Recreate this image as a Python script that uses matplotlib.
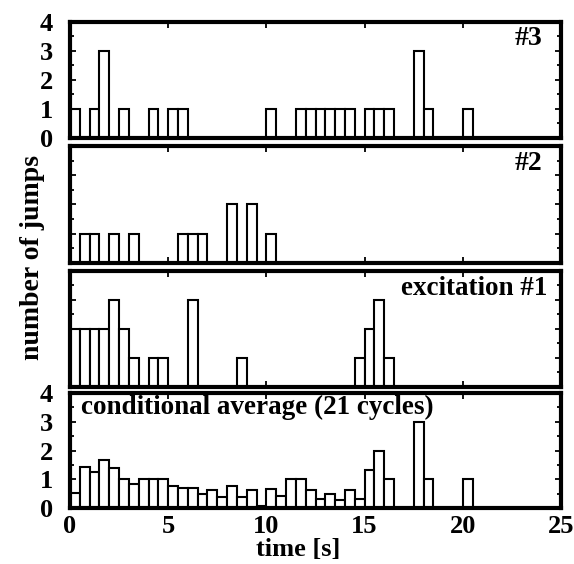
import matplotlib
matplotlib.use("Agg")
import matplotlib.pyplot as plt
from matplotlib.ticker import MultipleLocator, FixedLocator

plt.rcParams['font.family'] = ['Liberation Serif', 'DejaVu Serif']
plt.rcParams['font.weight'] = 'bold'

BIN = 0.5

# panel "#3": bin start times [s] and counts
t3 = [0.0, 1.0, 1.5, 2.5, 4.0, 5.0, 5.5, 10.0, 11.5, 12.0, 12.5, 13.0, 13.5, 14.0,
      15.0, 15.5, 16.0, 17.5, 18.0, 20.0]
n3 = [1, 1, 3, 1, 1, 1, 1, 1, 1, 1, 1, 1, 1, 1, 1, 1, 1, 3, 1, 1]

# panel "#2"
t2 = [0.5, 1.0, 2.0, 3.0, 5.5, 6.0, 6.5, 8.0, 9.0, 10.0]
n2 = [1, 1, 1, 1, 1, 1, 1, 2, 2, 1]

# panel "excitation #1"
t1 = [0.0, 0.5, 1.0, 1.5, 2.0, 2.5, 3.0, 4.0, 4.5, 6.0, 8.5, 14.5, 15.0, 15.5, 16.0]
n1 = [2, 2, 2, 2, 3, 2, 1, 1, 1, 3, 1, 1, 2, 3, 1]

# panel "conditional average (21 cycles)"
tc = [0.0, 0.5, 1.0, 1.5, 2.0, 2.5, 3.0, 3.5, 4.0, 4.5, 5.0, 5.5, 6.0, 6.5, 7.0, 7.5,
      8.0, 8.5, 9.0, 9.5, 10.0, 10.5, 11.0, 11.5, 12.0, 12.5, 13.0, 13.5, 14.0, 14.5,
      15.0, 15.5, 16.0, 17.5, 18.0, 20.0]
nc = [0.52, 1.42, 1.25, 1.68, 1.40, 1.0, 0.82, 1.0, 1.0, 1.0, 0.76, 0.71, 0.71, 0.49,
      0.63, 0.37, 0.76, 0.37, 0.61, 0.07, 0.67, 0.42, 1.0, 1.0, 0.64, 0.33, 0.47, 0.27,
      0.62, 0.30, 1.33, 2.0, 1.0, 3.0, 1.0, 1.0]

panel_labels = ["#3", "#2", "excitation #1", "conditional average (21 cycles)"]
x_ticks = [0, 5, 10, 15, 20, 25]
y_ticks = [0, 1, 2, 3, 4]

W, H = 574, 564
fig = plt.figure(figsize=(W / 100, H / 100), dpi=100)

# panel boxes in pixels: (top, bottom)
boxes = [(21.7, 137.7), (146.0, 262.7), (270.7, 386.7), (393.0, 508.0)]
left_px, right_px = 70.0, 561.0

data = [(t3, n3), (t2, n2), (t1, n1), (tc, nc)]
axes = []
for i, ((top, bot), (tt, nn)) in enumerate(zip(boxes, data)):
    ax = fig.add_axes([left_px / W, 1 - bot / H, (right_px - left_px) / W, (bot - top) / H])
    axes.append(ax)
    ax.bar(tt, nn, width=BIN, align='edge', facecolor='white', edgecolor='black',
           linewidth=1.5, zorder=2)
    ax.set_xlim(0, 25)
    ax.set_ylim(0, 4)
    for s in ax.spines.values():
        s.set_linewidth(3.0)
        s.set_zorder(5)
    ax.yaxis.set_major_locator(FixedLocator(y_ticks))
    ax.yaxis.set_minor_locator(MultipleLocator(0.5))
    ax.xaxis.set_major_locator(FixedLocator(x_ticks))
    ax.tick_params(axis='both', which='both', direction='in', top=True, right=True,
                   width=1.3, colors='black')
    ax.tick_params(axis='both', which='major', length=4.5)
    ax.tick_params(axis='both', which='minor', length=3)
    ax.tick_params(axis='y', which='major', pad=12, labelsize=19)
    ax.tick_params(axis='x', which='major', pad=5, labelsize=19)
    if i in (1, 2):
        ax.set_yticklabels([])
    if i < 3:
        ax.set_xticklabels([])
    for lab in ax.get_xticklabels() + ax.get_yticklabels():
        lab.set_fontweight('bold')

axes[0].text(0.963, 0.96, panel_labels[0], transform=axes[0].transAxes, ha='right',
             va='top', fontsize=20, fontweight='bold')
axes[1].text(0.963, 0.955, panel_labels[1], transform=axes[1].transAxes, ha='right',
             va='top', fontsize=20, fontweight='bold')
axes[2].text(0.972, 0.955, panel_labels[2], transform=axes[2].transAxes, ha='right',
             va='top', fontsize=19.5, fontweight='bold')
axes[3].text(0.022, 0.985, panel_labels[3], transform=axes[3].transAxes, ha='left',
             va='top', fontsize=19.5, fontweight='bold')

axes[3].set_xlabel("time [s]", fontsize=19, fontweight='bold')
axes[3].xaxis.set_label_coords(0.465, -0.26)

fig.text(33 / W, 1 - 257 / H, "number of jumps", rotation=90, ha='center', va='center',
         fontsize=20, fontweight='bold')

fig.savefig("out.png", dpi=100)
